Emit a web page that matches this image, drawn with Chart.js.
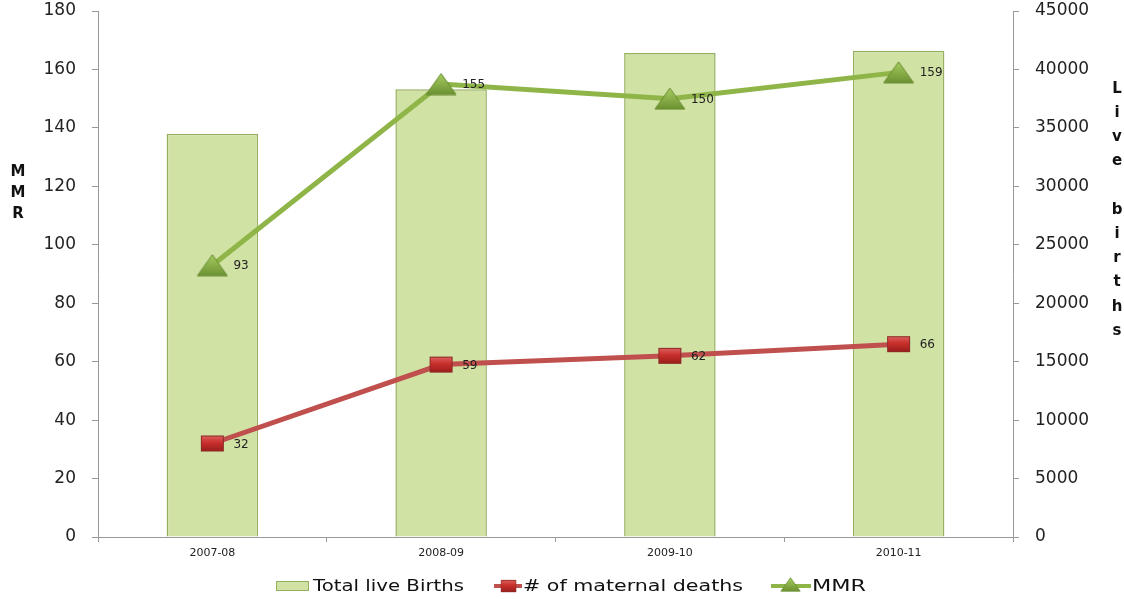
<!DOCTYPE html>
<html>
<head>
<meta charset="utf-8">
<script src="https://cdn.jsdelivr.net/npm/chart.js@4.4.1/dist/chart.umd.min.js"></script>
<style>
  html, body { margin: 0; padding: 0; background: #fff; }
  #wrap { width: 1124px; height: 599px; position: relative; }
</style>
</head>
<body>
<div id="wrap"><canvas id="mmrChart"></canvas></div>
<script>
const categories = ['2007-08', '2008-09', '2009-10', '2010-11'];
const liveBirths = [34500, 38300, 41400, 41600];
const maternalDeaths = [32, 59, 62, 66];
const mmrValues = [93, 155, 150, 159];
const leftTicks = [0, 20, 40, 60, 80, 100, 120, 140, 160, 180];
const rightTicks = [0, 5000, 10000, 15000, 20000, 25000, 30000, 35000, 40000, 45000];

const barFill = 'rgb(209,226,165)';
const barEdge = 'rgb(150,176,95)';
const redLine = 'rgb(192,80,77)';
const greenLine = 'rgb(143,181,72)';

// marker images, rough bevel like the office chart
function squareMarker(w, h) {
    const c = document.createElement('canvas');
    c.width = w + 2; c.height = h + 2;
    const g = c.getContext('2d');
    const grad = g.createLinearGradient(0, 0, 0, h);
    grad.addColorStop(0, '#e06a66');
    grad.addColorStop(0.5, '#c9302c');
    grad.addColorStop(1, '#9e1f1c');
    g.fillStyle = grad;
    g.fillRect(1, 1, w, h);
    g.strokeStyle = '#8a2a27';
    g.lineWidth = 1;
    g.strokeRect(1.5, 1.5, w - 1, h - 1);
    return c;
}

function triangleMarker(w, h) {
    const c = document.createElement('canvas');
    c.width = w + 2; c.height = h + 2;
    const g = c.getContext('2d');
    const grad = g.createLinearGradient(0, 0, 0, h);
    grad.addColorStop(0, '#a9cf63');
    grad.addColorStop(1, '#6f9434');
    g.fillStyle = grad;
    g.beginPath();
    g.moveTo(1 + w / 2, 1);
    g.lineTo(1 + w, 1 + h);
    g.lineTo(1, 1 + h);
    g.closePath();
    g.fill();
    g.strokeStyle = '#668a2e';
    g.lineWidth = 1;
    g.stroke();
    return c;
}

const sqImg = squareMarker(23, 16);
const triImg = triangleMarker(30, 21);

const valueLabels = {
    id: 'valueLabels',
    afterDatasetsDraw(chart) {
        const ctx = chart.ctx;
        ctx.save();
        ctx.font = '12px "DejaVu Sans"';
        ctx.fillStyle = '#222';
        ctx.textAlign = 'left';
        ctx.textBaseline = 'middle';
        [1, 2].forEach(i => {
            const meta = chart.getDatasetMeta(i);
            meta.data.forEach((pt, j) => {
                ctx.fillText(chart.data.datasets[i].data[j], pt.x + 21, pt.y + 1);
            });
        });
        ctx.restore();
    }
};

function stretchText(ctx, text, x, y, width) {
    const w = ctx.measureText(text).width;
    ctx.save();
    ctx.translate(x, y);
    ctx.scale(width / w, 1);
    ctx.fillText(text, 0, 0);
    ctx.restore();
}

const sideTitles = {
    id: 'sideTitles',
    afterDraw(chart) {
        const ctx = chart.ctx;
        ctx.save();
        ctx.font = 'bold 15px "DejaVu Sans"';
        ctx.fillStyle = '#111';
        ctx.textAlign = 'center';
        ctx.textBaseline = 'middle';
        ['M', 'M', 'R'].forEach((ch, i) => ctx.fillText(ch, 18, 172 + i * 21));
        const live = ['L', 'i', 'v', 'e', '', 'b', 'i', 'r', 't', 'h', 's'];
        live.forEach((ch, i) => ctx.fillText(ch, 1117, 89 + i * 24.2));

        // legend
        const ly = 586;
        ctx.textAlign = 'left';
        ctx.textBaseline = 'middle';
        ctx.font = '15px "DejaVu Sans"';

        ctx.fillStyle = barFill;
        ctx.fillRect(276, ly - 5, 33, 10);
        ctx.strokeStyle = barEdge;
        ctx.lineWidth = 1;
        ctx.strokeRect(276.5, ly - 4.5, 32, 9);
        ctx.fillStyle = '#111';
        stretchText(ctx, 'Total live Births', 313, ly + 1, 151);

        ctx.strokeStyle = redLine;
        ctx.lineWidth = 4;
        ctx.beginPath(); ctx.moveTo(494, ly); ctx.lineTo(522, ly); ctx.stroke();
        ctx.drawImage(sqImg, 500, ly - 7, 17, 14);
        stretchText(ctx, '# of maternal deaths', 523, ly + 1, 220);

        ctx.strokeStyle = greenLine;
        ctx.beginPath(); ctx.moveTo(771, ly); ctx.lineTo(811, ly); ctx.stroke();
        ctx.drawImage(triImg, 780, ly - 9, 21, 15);
        stretchText(ctx, 'MMR', 812, ly + 1, 54);
        ctx.restore();
    }
};

function fitY(width) {
    return scale => {
        scale.width = width;
        scale.paddingTop = 0;
        scale.paddingBottom = 0;
    };
}

const ctx = document.getElementById('mmrChart').getContext('2d');
const mmrChart = new Chart(ctx, {
    type: 'bar',
    data: {
        labels: categories,
        datasets: [
            {
                type: 'bar',
                label: 'Total live Births',
                data: liveBirths,
                yAxisID: 'y2',
                backgroundColor: barFill,
                borderColor: barEdge,
                borderWidth: 1.5,
                categoryPercentage: 1,
                barPercentage: 0.4,
                order: 3
            },
            {
                type: 'line',
                label: '# of maternal deaths',
                data: maternalDeaths,
                yAxisID: 'y',
                borderColor: redLine,
                borderWidth: 5,
                pointStyle: sqImg,
                tension: 0,
                order: 2
            },
            {
                type: 'line',
                label: 'MMR',
                data: mmrValues,
                yAxisID: 'y',
                borderColor: greenLine,
                borderWidth: 5,
                pointStyle: triImg,
                tension: 0,
                order: 1
            }
        ]
    },
    options: {
        responsive: true,
        maintainAspectRatio: false,
        animation: false,
        layout: { padding: { top: 11, bottom: 0, left: 0, right: 0 } },
        plugins: {
            legend: { display: false },
            tooltip: { enabled: false }
        },
        scales: {
            x: {
                grid: { drawOnChartArea: false, tickLength: 5, color: '#999', offset: true },
                border: { color: '#999' },
                ticks: { font: { family: 'DejaVu Sans', size: 11 }, color: '#222', padding: 5 },
                afterFit(scale) {
                    scale.height = 62;
                    scale.paddingLeft = 0;
                    scale.paddingRight = 0;
                }
            },
            y: {
                position: 'left',
                min: 0,
                max: 180,
                afterBuildTicks(scale) { scale.ticks = leftTicks.map(v => ({ value: v })); },
                grid: { drawOnChartArea: false, tickLength: 6, color: '#999' },
                border: { color: '#999' },
                ticks: { font: { family: 'DejaVu Sans', size: 17 }, color: '#222', padding: 16 },
                afterFit: fitY(98)
            },
            y2: {
                position: 'right',
                min: 0,
                max: 45000,
                afterBuildTicks(scale) { scale.ticks = rightTicks.map(v => ({ value: v })); },
                grid: { drawOnChartArea: false, tickLength: 6, color: '#999' },
                border: { color: '#999' },
                ticks: {
                    font: { family: 'DejaVu Sans', size: 17 },
                    color: '#222',
                    padding: 16,
                    callback: v => String(v)
                },
                afterFit: fitY(111)
            }
        }
    },
    plugins: [valueLabels, sideTitles]
});
</script>
</body>
</html>
